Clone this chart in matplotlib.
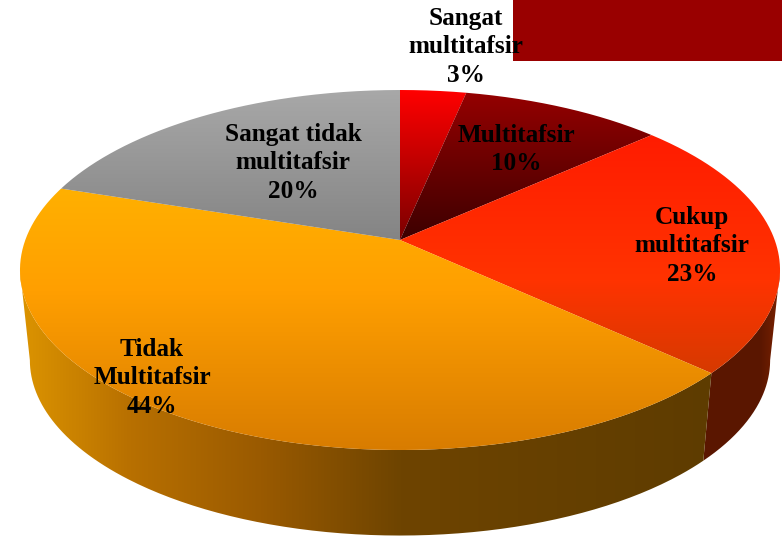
#!/usr/bin/env python3

# 3D style pie, top face and side wall drawn as gradients clipped to slice shapes
import numpy as np
import matplotlib
matplotlib.use("Agg")
import matplotlib.pyplot as plt
from matplotlib.patches import PathPatch, Rectangle
from matplotlib.path import Path

labels = ["Sangat\nmultitafsir", "Multitafsir", "Cukup\nmultitafsir", "Tidak\nMultitafsir", "Sangat tidak\nmultitafsir"]
percents = [3, 10, 23, 44, 20]
# slice sizes as measured on the picture, the printed percents are rounded
sizes = [3.3, 10.1, 23.4, 43.2, 20.0]

W, H = 782, 539
label_xy = [(466, 18), (516, 135), (692, 217), (152, 349), (293, 134)]

# colour stops: (pixel position, colour)
top_stops = [
    [(90, "#ff0000"), (240, "#7a0000")],
    [(90, "#960000"), (240, "#3c0000")],
    [(135, "#ff1c00"), (280, "#ff3300"), (372, "#d63a00")],
    [(188, "#ffb000"), (290, "#ff9f00"), (450, "#d87c00")],
    [(90, "#a8a8a8"), (240, "#848484")],
]
wall_stops = {
    2: [(700, "#5a1600"), (760, "#5a1600"), (780, "#7c2200")],
    3: [(20, "#dc9400"), (130, "#b87000"), (260, "#9a5a00"), (400, "#6e4400"), (712, "#5e3c00")],
}

# where the rim turns away from the viewer, walls are only seen between these
side = np.arccos(-1 / 6)


def project(theta, cy, scale):
    # clockwise from the back of the disc, near edge comes out larger
    X, Y = np.sin(theta), np.cos(theta)
    d = 1 + Y / 6
    return 400 + scale * 374.7 * X / d, cy - scale * 175 * Y / d


def ramp(stops, n):
    pos = [s[0] for s in stops]
    cols = np.array([matplotlib.colors.to_rgb(s[1]) for s in stops])
    return np.stack([np.interp(np.arange(n), pos, cols[:, i]) for i in range(3)], axis=1)


def fill(ax, xs, ys, stops, horizontal=False):
    verts = np.column_stack([xs, ys])
    verts = np.vstack([verts, verts[0]])
    patch = PathPatch(Path(verts), fc="none", ec="none", transform=ax.transData)
    ax.add_patch(patch)
    if horizontal:
        img = np.tile(ramp(stops, W)[None, :, :], (H, 1, 1))
    else:
        img = np.tile(ramp(stops, H)[:, None, :], (1, W, 1))
    im = ax.imshow(img, extent=(0, W, H, 0), aspect="auto", interpolation="nearest")
    im.set_clip_path(patch)


plt.rcParams["font.family"] = ["Liberation Serif", "DejaVu Serif"]

fig = plt.figure(figsize=(W / 100, H / 100), dpi=100)
ax = fig.add_axes([0, 0, 1, 1])

edges = np.cumsum([0] + sizes) / sum(sizes) * 2 * np.pi

# side walls first, the top face covers what should stay hidden
for i in wall_stops:
    t = np.linspace(max(edges[i], side), min(edges[i + 1], 2 * np.pi - side), 200)
    x1, y1 = project(t, 240, 1)
    x2, y2 = project(t[::-1], 331, 0.974)
    fill(ax, np.r_[x1, x2], np.r_[y1, y2], wall_stops[i], horizontal=True)

for i in range(len(sizes)):
    t = np.linspace(edges[i], edges[i + 1], 200)
    x1, y1 = project(t, 240, 1)
    fill(ax, np.r_[400, x1], np.r_[240, y1], top_stops[i])

ax.add_patch(Rectangle((513, 0), W - 513, 61, fc="#990000", ec="none"))

for name, pct, (x, y) in zip(labels, percents, label_xy):
    ax.text(x, y - 11, f"{name}\n{pct}%", ha="center", va="top", fontsize=18.2, fontweight="bold",
            color="black", linespacing=1.3, zorder=5)

ax.set_xlim(0, W)
ax.set_ylim(H, 0)
ax.axis("off")

fig.savefig("out.png", dpi=100)
plt.close(fig)
